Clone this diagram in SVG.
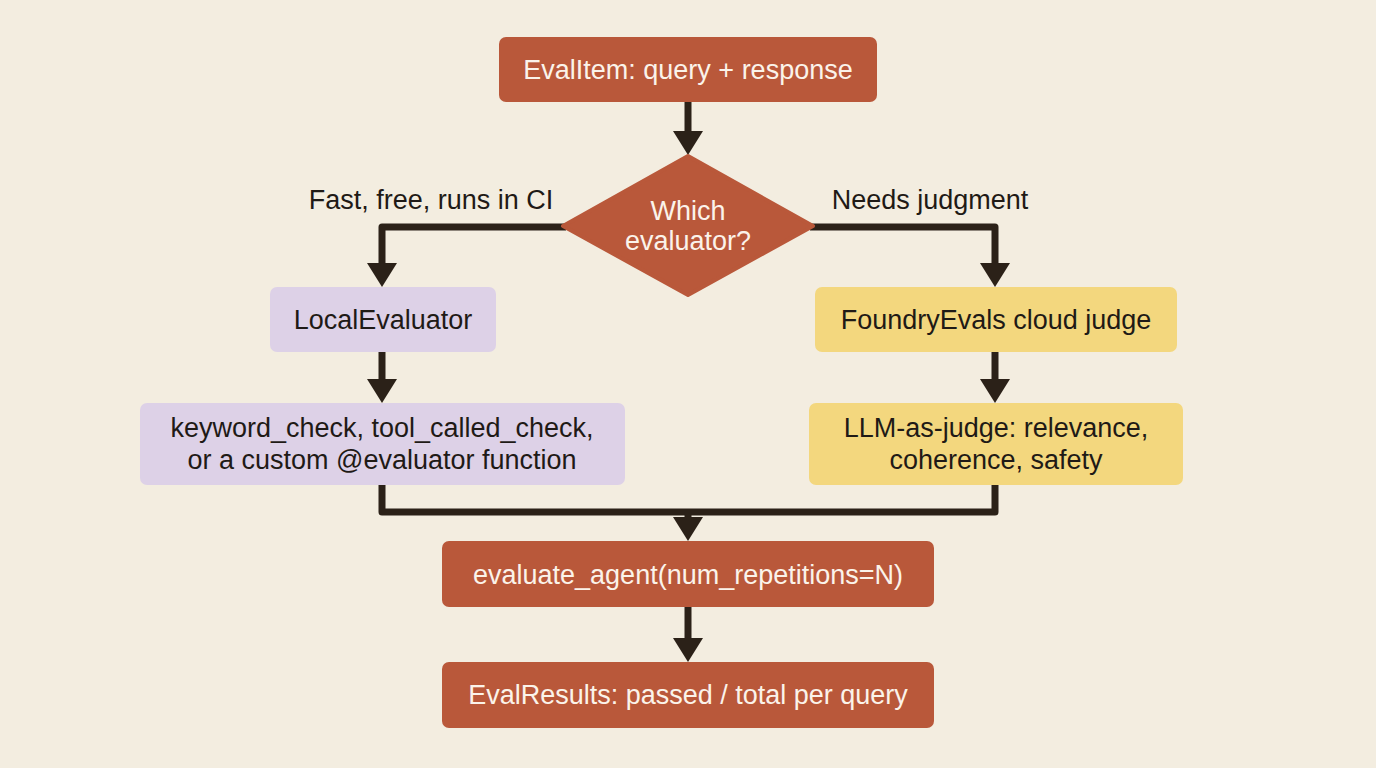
<svg xmlns="http://www.w3.org/2000/svg" width="1376" height="768" viewBox="0 0 1376 768">
<style>
text{font-family:"Liberation Sans",Arial,sans-serif;font-size:27px;text-anchor:middle;dominant-baseline:central}
.o{fill:#b9583a}.p{fill:#ddd1e7}.y{fill:#f3d77e}
.w{fill:#fbf3ea}.d{fill:#1f1a16}
.c{fill:none;stroke:#2b2118;stroke-width:7;stroke-linejoin:round}
</style>
<defs><marker id="a" markerUnits="userSpaceOnUse" markerWidth="26" markerHeight="32" refX="0" refY="15" orient="auto"><path d="M0,0 L24,15 L0,30 Z" fill="#2b2118"/></marker></defs>
<rect width="1376" height="768" fill="#f3ede0"/>
<g id="connectors">
<path class="c" d="M688,102 V131" marker-end="url(#a)"/>
<path class="c" d="M566,227 H382 V263" marker-end="url(#a)"/>
<path class="c" d="M810,227 H995 V263" marker-end="url(#a)"/>
<path class="c" d="M382,352 V379" marker-end="url(#a)"/>
<path class="c" d="M995,352 V379" marker-end="url(#a)"/>
<path class="c" d="M382,485 V512 H995 V485"/>
<path class="c" d="M688,512 V517" marker-end="url(#a)"/>
<path class="c" d="M688,607 V638" marker-end="url(#a)"/>
</g>
<text class="d" x="431" y="200">Fast, free, runs in CI</text>
<text class="d" x="930" y="200">Needs judgment</text>
<g id="n1"><rect class="o" x="499" y="37" width="378" height="65" rx="7"/><text class="w" x="688" y="70">EvalItem: query + response</text></g>
<g id="n2"><path class="o" d="M688,156 L813,226 L688,295 L563,226 Z" stroke="#b9583a" stroke-width="4" stroke-linejoin="round"/><text class="w" x="688" y="211">Which</text><text class="w" x="688" y="241">evaluator?</text></g>
<g id="n3"><rect class="p" x="270" y="287" width="226" height="65" rx="7"/><text class="d" x="383" y="320">LocalEvaluator</text></g>
<g id="n4"><rect class="y" x="815" y="287" width="362" height="65" rx="7"/><text class="d" x="996" y="320">FoundryEvals cloud judge</text></g>
<g id="n5"><rect class="p" x="140" y="403" width="485" height="82" rx="7"/><text class="d" x="382" y="428">keyword_check, tool_called_check,</text><text class="d" x="382" y="460">or a custom @evaluator function</text></g>
<g id="n6"><rect class="y" x="809" y="403" width="374" height="82" rx="7"/><text class="d" x="996" y="428">LLM-as-judge: relevance,</text><text class="d" x="996" y="460">coherence, safety</text></g>
<g id="n7"><rect class="o" x="442" y="541" width="492" height="66" rx="7"/><text class="w" x="688" y="575">evaluate_agent(num_repetitions=N)</text></g>
<g id="n8"><rect class="o" x="442" y="662" width="492" height="66" rx="7"/><text class="w" x="688" y="695">EvalResults: passed / total per query</text></g>
</svg>
